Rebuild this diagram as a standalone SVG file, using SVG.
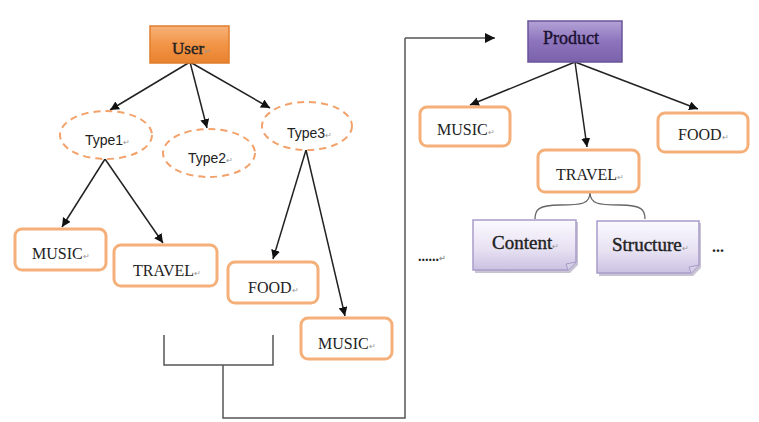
<svg xmlns="http://www.w3.org/2000/svg" width="759" height="422" viewBox="0 0 759 422">
<defs>
<linearGradient id="gOr" x1="0" y1="0" x2="0" y2="1"><stop offset="0" stop-color="#f7b27a"/><stop offset="0.5" stop-color="#f29446"/><stop offset="1" stop-color="#e8822e"/></linearGradient>
<linearGradient id="gPu" x1="0" y1="0" x2="0" y2="1"><stop offset="0" stop-color="#b3a2d6"/><stop offset="0.5" stop-color="#8d74bd"/><stop offset="1" stop-color="#7a62aa"/></linearGradient>
<linearGradient id="gLv" x1="0" y1="0" x2="0" y2="1"><stop offset="0" stop-color="#fbfaff"/><stop offset="0.6" stop-color="#e6e0f2"/><stop offset="1" stop-color="#cbc1e2"/></linearGradient>
<marker id="ah" viewBox="0 0 10 10" refX="10" refY="5" markerWidth="9" markerHeight="9" markerUnits="userSpaceOnUse" orient="auto"><path d="M0,0 L10,5 L0,10 z" fill="#111"/></marker>
<marker id="ah2" viewBox="0 0 10 10" refX="10" refY="5" markerWidth="10" markerHeight="10" markerUnits="userSpaceOnUse" orient="auto"><path d="M0,0 L10,5 L0,10 z" fill="#111"/></marker>
</defs>
<style>
.box{fill:#fff;stroke:#f5b07a;stroke-width:3}
.ell{fill:#fff;stroke:#f2a26a;stroke-width:2;stroke-dasharray:7 5}
.t{font-family:"Liberation Serif",serif;font-size:16px;fill:#222}
.hv{stroke:#222;stroke-width:0.4}
.ts{font-family:"Liberation Sans",sans-serif;font-size:14px;fill:#222}
.rm{font-size:8px;fill:#999;stroke:none}
.ln{stroke:#222;stroke-width:1.5;fill:none;marker-end:url(#ah)}
.gl{stroke:#555;stroke-width:1.5;fill:none}
.doc{fill:url(#gLv);stroke:#a99cc9;stroke-width:1.5}
</style>
<g id="connectors">
<line class="ln" x1="190" y1="62" x2="110" y2="110"/>
<line class="ln" x1="190" y1="62" x2="207" y2="128"/>
<line class="ln" x1="190" y1="62" x2="270" y2="108"/>
<line class="ln" x1="105" y1="159" x2="62" y2="227"/>
<line class="ln" x1="105" y1="159" x2="163" y2="243"/>
<line class="ln" x1="306" y1="150" x2="273" y2="259"/>
<line class="ln" x1="306" y1="150" x2="345" y2="316"/>
<line class="ln" x1="575" y1="62" x2="470" y2="105"/>
<line class="ln" x1="575" y1="62" x2="587" y2="147"/>
<line class="ln" x1="575" y1="62" x2="698" y2="109"/>
<path class="gl" d="M164,335 V365 H273 V335 M223,365 V418 H405 V38"/>
<path d="M405,38 H495" stroke="#555" stroke-width="1.5" fill="none" marker-end="url(#ah2)"/>
<path d="M590,192 C590,204 582,205 560,205 C538,205 535,210 535,219 M590,192 C590,204 598,205 620,205 C642,205 645,210 645,219" stroke="#666" stroke-width="1.3" fill="none"/>
</g>
<g id="user">
<rect x="150" y="26" width="79" height="37" fill="url(#gOr)" stroke="#e07e2c" stroke-width="1.5"/>
<text class="t hv" x="172" y="54" style="font-size:17px">User<tspan class="rm">↵</tspan></text>
</g>
<g id="type1">
<ellipse class="ell" cx="106" cy="135" rx="46" ry="24"/>
<text class="ts" x="85" y="145">Type1<tspan class="rm">↵</tspan></text>
</g>
<g id="type2">
<ellipse class="ell" cx="209" cy="153" rx="46" ry="24"/>
<text class="ts" x="188" y="163">Type2<tspan class="rm">↵</tspan></text>
</g>
<g id="type3">
<ellipse class="ell" cx="307" cy="126" rx="45" ry="24"/>
<text class="ts" x="287" y="138">Type3<tspan class="rm">↵</tspan></text>
</g>
<g id="music1">
<rect class="box" x="15" y="229" width="91" height="41" rx="7"/>
<text class="t" x="32" y="259">MUSIC<tspan class="rm">↵</tspan></text>
</g>
<g id="travel1">
<rect class="box" x="114" y="245" width="103" height="41" rx="7"/>
<text class="t" x="133" y="276">TRAVEL<tspan class="rm">↵</tspan></text>
</g>
<g id="food1">
<rect class="box" x="228" y="262" width="90" height="41" rx="7"/>
<text class="t" x="248" y="293">FOOD<tspan class="rm">↵</tspan></text>
</g>
<g id="music2">
<rect class="box" x="301" y="318" width="91" height="41" rx="7"/>
<text class="t" x="318" y="349">MUSIC<tspan class="rm">↵</tspan></text>
</g>
<g id="product">
<rect x="528" y="21" width="94" height="41" fill="url(#gPu)" stroke="#6a5498" stroke-width="1.5"/>
<text class="t hv" x="543" y="44" style="font-size:18px;fill:#1a1030;stroke:#1a1030">Product</text>
</g>
<g id="music3">
<rect class="box" x="420" y="107" width="90" height="39" rx="7"/>
<text class="t" x="437" y="135">MUSIC<tspan class="rm">↵</tspan></text>
</g>
<g id="travel2">
<rect class="box" x="538" y="150" width="101" height="42" rx="7"/>
<text class="t" x="556" y="180">TRAVEL<tspan class="rm">↵</tspan></text>
</g>
<g id="food2">
<rect class="box" x="658" y="113" width="90" height="39" rx="7"/>
<text class="t" x="678" y="140">FOOD<tspan class="rm">↵</tspan></text>
</g>
<g id="content">
<path d="M475,222 H578 V265 L570,273 H475 Z" fill="#a49cb8" opacity="0.6"/>
<path class="doc" d="M473,220 H576 V262 L568,270 H473 Z"/>
<path d="M576,262 L566,264 L568,270" fill="#d6cfe8" stroke="#a99cc9" stroke-width="1"/>
<text class="t hv" x="492" y="249" style="font-size:19px">Content<tspan class="rm">↵</tspan></text>
</g>
<g id="structure">
<path d="M599,223 H701 V268 L693,276 H599 Z" fill="#a49cb8" opacity="0.6"/>
<path class="doc" d="M597,221 H699 V265 L691,273 H597 Z"/>
<path d="M699,265 L689,267 L691,273" fill="#d6cfe8" stroke="#a99cc9" stroke-width="1"/>
<text class="t hv" x="612" y="251" style="font-size:19px">Structure<tspan class="rm">↵</tspan></text>
</g>
<text class="t" x="418" y="261" style="font-size:14px;font-weight:bold">......<tspan class="rm">↵</tspan></text>
<text class="t" x="712" y="252" style="font-size:16px;font-weight:bold">...</text>
</svg>
